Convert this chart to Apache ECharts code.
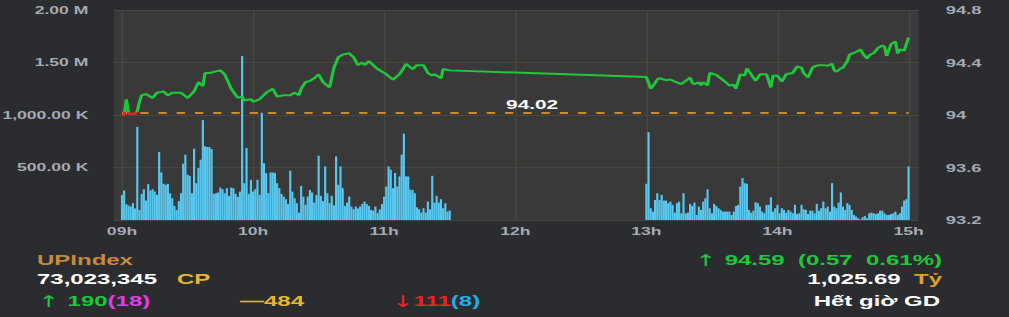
<!DOCTYPE html>
<html><head><meta charset="utf-8">
<script src="https://cdn.jsdelivr.net/npm/echarts@6/dist/echarts.min.js"></script>
<style>
html,body{margin:0;padding:0;background:#2b2c30;width:1009px;height:317px;overflow:hidden;}
#chart{width:630.625px;height:317px;transform:scaleX(1.6);transform-origin:0 0;}
</style></head><body><div id="chart"></div>
<script>
// ---- axis ticks / labels ----
const hourTicks = [0, 60, 120, 180, 240, 300, 360];          // minutes after 09:00
const hourLabels = ['09h', '10h', '11h', '12h', '13h', '14h', '15h'];
const volTickValues = [0, 500000, 1000000, 1500000, 2000000];
const volTickLabels = ['', '500.00 K', '1,000.00 K', '1.50 M', '2.00 M'];
const priceTickValues = [93.2, 93.6, 94, 94.4, 94.8];
const priceTickLabels = ['93.2', '93.6', '94', '94.4', '94.8'];

// ---- volume per minute (thousand shares) ----
const morningStartMinute = 0;    // 09:00
const morningVolumeK = [239,281,150,137,128,160,110,887,96,249,293,185,341,281,293,271,240,648,453,345,
 335,345,255,207,134,96,180,255,536,622,431,421,255,679,351,494,574,951,702,695,
 695,676,249,255,262,309,293,255,303,230,309,303,249,220,270,1563,351,686,249,383,
 271,293,383,240,1021,542,447,255,453,453,447,351,303,249,223,198,153,469,271,207,
 160,70,325,223,144,223,287,262,166,239,612,230,180,510,255,160,230,140,606,335,
 510,303,134,166,223,128,102,128,110,128,153,175,153,134,96,90,128,64,100,153,
 223,319,510,479,303,447,319,415,622,823,415,415,287,287,255,121,102,70,112,70,
 175,102,421,166,230,166,198,112,160,80,90];
const afternoonStartMinute = 240; // 13:00
const afternoonVolumeK = [345,836,112,80,191,255,191,239,185,185,160,175,144,70,160,175,64,255,64,70,
 153,134,166,48,128,96,175,207,293,112,64,153,134,112,96,80,80,80,80,48,
 80,134,144,319,399,351,345,96,70,89,169,160,128,80,64,144,144,217,80,112,
 144,64,112,96,70,96,80,64,144,57,64,144,102,96,57,89,89,64,153,89,
 112,175,112,128,80,351,128,112,166,262,128,96,160,144,96,48,32,16,6,26,
 38,16,64,70,64,57,64,89,89,64,48,48,57,64,80,48,64,128,185,198,510];

// ---- index price (minute after 09:00, value) ----
const priceMinutes = [0,1,2,3,5,6,7,8,9,11,14,16,19,21,23,27,30,33,35,37,38,40,45,47,50,53,55,56,59,60,
 63,66,69,71,74,77,79,81,82,84,86,88,90,92,95,97,99,101,104,106,108,110,111,113,115,117,121,124,127,129,
 130,133,135,138,140,142,143,146,147,150,
 240,242,243,245,246,249,251,253,256,258,260,261,262,264,265,266,268,269,272,274,276,278,280,281,283,
 285,286,288,290,292,295,297,298,300,302,304,307,309,311,312,314,316,317,319,321,323,325,326,327,329,
 330,332,333,336,338,339,341,342,344,346,348,349,350,352,354,355,356,358,359,360];
const prices = [94.00,94.00,94.12,94.01,94.01,94.01,94.03,94.10,94.15,94.16,94.13,94.17,94.18,94.15,94.17,94.17,94.13,94.18,94.25,94.22,94.32,94.32,94.34,94.31,94.20,94.13,94.14,94.11,94.12,94.10,
 94.12,94.17,94.20,94.14,94.15,94.15,94.17,94.15,94.20,94.25,94.26,94.28,94.31,94.25,94.21,94.36,94.44,94.46,94.47,94.44,94.38,94.40,94.38,94.41,94.38,94.35,94.31,94.27,94.31,94.36,
 94.39,94.35,94.38,94.38,94.32,94.30,94.31,94.28,94.35,94.34,
 94.29,94.20,94.22,94.27,94.28,94.265,94.27,94.255,94.235,94.26,94.285,94.245,94.235,94.25,94.225,94.25,94.225,94.32,94.305,94.28,94.255,94.225,94.23,94.20,94.31,
 94.30,94.355,94.31,94.26,94.31,94.31,94.21,94.30,94.30,94.255,94.31,94.32,94.37,94.36,94.32,94.285,94.36,94.37,94.38,94.38,94.375,94.39,94.34,94.33,94.355,
 94.36,94.41,94.46,94.48,94.50,94.47,94.43,94.455,94.47,94.51,94.53,94.52,94.45,94.54,94.56,94.47,94.50,94.49,94.54,94.59];
const refPrice = 94.02;

// ---- info texts ----
const indexName = 'UPIndex';
const volumeText = '73,023,345';
const volumeUnit = 'CP';
const changeText = '94.59  (0.57  0.61%)';
const valueText = '1,025.69';
const valueUnit = 'Tỷ';
const statusText = 'Hết giờ GD';
const advances = '190', advancesCeil = '(18)';
const unchanged = '484';
const declines = '111', declinesFloor = '(8)';

// ---- build ----
const K = 1.6; // horizontal stretch of the reference picture
const FONT = '"Liberation Sans", Arial, sans-serif';
const volData = morningVolumeK.map((v, i) => [morningStartMinute + i, v * 1000])
  .concat(afternoonVolumeK.map((v, i) => [afternoonStartMinute + i, v * 1000]));
const priceData = priceMinutes.map((m, i) => [m, prices[i]]);

const axisLabelStyle = {color: '#a4a9b3', fontSize: 11.5, fontWeight: 'bold', fontFamily: FONT};
const gridColor = '#4a463e';
const green = '#1fc83a', red = '#ee2222', gold = '#e6b531';

function seg(fill, size, family, weight) {
  return {fill: fill, fontSize: size, fontFamily: family || FONT, fontWeight: weight || 'bold'};
}
const arrowSeg = fill => seg(fill, 16, 'DejaVu Sans', 'normal');

function txt(x, y, text, fill, align, rich) {
  return {type: 'text', x: x, y: y, silent: true,
    style: {text: text, fill: fill, align: align || 'left', verticalAlign: 'middle',
      fontSize: 15, fontWeight: 'bold', fontFamily: FONT, rich: rich}};
}

const chart = echarts.init(document.getElementById('chart'), null, {renderer: 'svg'});
chart.setOption({
  animation: false,
  backgroundColor: '#2b2c30',
  grid: {left: 114 / K, right: (1009 - 918) / K, top: 10, bottom: 97, show: true,
    backgroundColor: '#393939', borderWidth: 0, containLabel: false, outerBoundsMode: 'none'},
  xAxis: {
    type: 'value', min: -3.66, max: 364.6,
    axisLine: {show: false},
    axisTick: {show: false, customValues: hourTicks},
    splitLine: {show: true, lineStyle: {color: gridColor, width: 1}},
    axisLabel: Object.assign({customValues: hourTicks, margin: 6,
      formatter: v => hourLabels[hourTicks.indexOf(v)] || ''}, axisLabelStyle, {fontSize: 11})
  },
  yAxis: [
    {type: 'value', min: 0, max: 2000000, interval: 500000, position: 'left',
      axisLine: {show: false}, axisTick: {show: false},
      splitLine: {show: true, lineStyle: {color: gridColor, width: 1}},
      axisLabel: Object.assign({margin: 16,
        formatter: v => volTickLabels[volTickValues.indexOf(v)] || ''}, axisLabelStyle, {fontSize: 11})},
    {type: 'value', min: 93.2, max: 94.8, interval: 0.4, position: 'right',
      axisLine: {show: false}, axisTick: {show: false}, splitLine: {show: false},
      axisLabel: Object.assign({margin: 17,
        formatter: v => { const i = priceTickValues.findIndex(t => Math.abs(t - v) < 1e-6); return i < 0 ? '' : priceTickLabels[i]; }}, axisLabelStyle)}
  ],
  visualMap: {show: false, type: 'piecewise', seriesIndex: 1, dimension: 1,
    pieces: [{gte: 93.2, lt: refPrice, color: red}, {gte: refPrice, lte: 94.8, color: green}],
    outOfRange: {color: green}},
  series: [
    {type: 'bar', yAxisIndex: 0, data: volData, barWidth: 1.35,
      itemStyle: {color: '#58c7ef'}, silent: true},
    {type: 'line', yAxisIndex: 1, data: priceData, showSymbol: false, symbol: 'none',
      lineStyle: {width: 2}, silent: true, z: 5,
      markLine: {silent: true, symbol: 'none', animation: false,
        lineStyle: {color: '#c98b2e', width: 2, type: [5.2, 6.2]},
        label: {show: true, position: 'insideMiddleTop', distance: 1, padding: [0, 0, 0, 21],
          formatter: refPrice.toFixed(2), color: '#ffffff', fontSize: 13, fontWeight: 'bold', fontFamily: FONT},
        data: [[{coord: [0, refPrice]}, {coord: [360, refPrice]}]]}}
  ],
  graphic: [
    txt(37 / K, 260, indexName, '#c8893c'),
    txt(942 / K, 260, '{a|↑ }{g|' + changeText + '}', green, 'right',
      {a: arrowSeg(green), g: seg(green, 15)}),
    txt(37 / K, 279, volumeText, '#ffffff'),
    txt(177 / K, 279, volumeUnit, gold),
    txt(942 / K, 279, '{w|' + valueText + '}  {o|' + valueUnit + '}', '#ffffff', 'right',
      {w: seg('#ffffff', 15), o: seg('#e2a12e', 15)}),
    txt(38 / K, 301, '{a|↑ }{g|' + advances + '}{m|' + advancesCeil + '}', green, 'left',
      {a: arrowSeg(green), g: seg(green, 15), m: seg('#e23ce6', 15)}),
    txt(240 / K, 301, '—' + unchanged, gold),
    txt(392 / K, 301, '{a|↓}{r|' + declines + '}{c|' + declinesFloor + '}', red, 'left',
      {a: arrowSeg(red), r: seg(red, 15), c: seg('#25aee6', 15)}),
    txt(940 / K, 301, statusText, '#ffffff', 'right')
  ]
});
</script></body></html>
